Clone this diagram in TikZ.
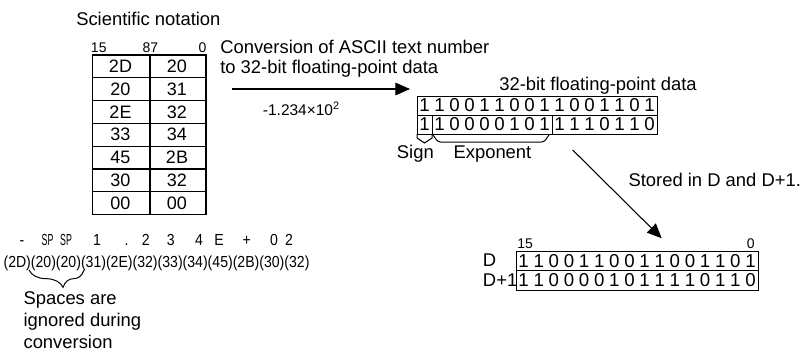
\documentclass[tikz,border=0pt]{standalone}
\usepackage{fontspec}
\setmainfont{Liberation Sans}
\usetikzlibrary{arrows.meta,decorations.pathreplacing}
\newcommand{\narrowtxt}[2]{\scalebox{#1}[1]{#2}}

\tikzset{
  txt/.style={inner sep=0pt, font=\fontsize{13.8}{16.3}\selectfont},
  tiny/.style={inner sep=0pt, font=\fontsize{10.5}{12}\selectfont},
  cellt/.style={inner sep=0pt, font=\fontsize{13.5}{16}\selectfont},
  bitt/.style={inner sep=0pt, font=\fontsize{14}{16}\selectfont},
  asc/.style={inner sep=0pt, font=\fontsize{12}{14}\selectfont},
  wire/.style={line width=0.75pt},
  grid/.style={line width=0.9pt},
  flow/.style={line width=0.8pt, -{Triangle[length=11pt,width=9.5pt]}},
}

\begin{document}
\begin{tikzpicture}[x=0.75pt,y=-0.75pt]
\useasboundingbox (0,0) rectangle (803,354);

% ASCII words
\node[txt, anchor=base west] (title) at (76,25) {Scientific notation};
\node[tiny, anchor=base west] (t15) at (90.7,52.5) {15};
\node[tiny, anchor=base] (t87) at (150.5,52.5) {87};
\node[tiny, anchor=base east] (t0) at (206.7,52.5) {0};
\draw[grid] (92.7,55) rectangle (206,214.5);
\draw[grid] (150,55) -- (150,214.5);
\foreach \i in {1,...,6}
    \draw[grid] (92.7,{55+22.78*\i}) -- (206,{55+22.78*\i});
\foreach \ha/\la [count=\i] in {2D/20,20/31,2E/32,33/34,45/2B,30/32,00/00}
{
    \node[cellt] (ha\i) at (120.5,{55+22.78*\i-11.4}) {\ha};
    \node[cellt] (la\i) at (177,{55+22.78*\i-11.4}) {\la};
}

% conversion
\node[txt, anchor=base west] (conv1) at (220,53) {Conversion of ASCII text number};
\node[txt, anchor=base west] (conv2) at (220,73) {to 32-bit floating-point data};
\coordinate (convfrom) at (232,89);
\coordinate (convto) at (410,89);
\draw[flow] (convfrom) -- (convto);
\node[inner sep=0pt, font=\fontsize{11.6}{13}\selectfont, anchor=base west] (value) at (262.7,115) {-1.234×10\textsuperscript{2}};

% 32-bit floating-point data
\node[txt, anchor=base east] (fptitle) at (697,90) {32-bit floating-point data};
\draw[wire] (417,96) rectangle (657,134);
\draw[wire] (417,115) -- (657,115);
\draw[wire] (432,115) -- (432,134);
\draw[wire] (552,115) -- (552,134);
\foreach \d [count=\i] in {1,1,0,0,1,1,0,0,1,1,0,0,1,1,0,1}
    \node[bitt] (fa\i) at ({417+15*\i-7.5},105.5) {\d};
\foreach \d [count=\i] in {1,1,0,0,0,0,1,0,1,1,1,1,0,1,1,0}
    \node[bitt] (fb\i) at ({417+15*\i-7.5},124.5) {\d};
\draw[wire] (417,134) -- (417,138) -- (424.5,143) -- (432,138) -- (432,134);
\draw[wire, rounded corners=2pt] (433,135) -- (438,142) -- (544,142) -- (549,135);
\node[txt, anchor=base west] (sign) at (396.7,158) {Sign};
\node[txt, anchor=base west] (expo) at (453.3,158) {Exponent};

% store
\node[txt, anchor=base west] (stored) at (628.3,186.7) {Stored in D and D+1.};
\coordinate (storefrom) at (572.7,150);
\coordinate (storeto) at (661.7,238.3);
\draw[flow] (storefrom) -- (storeto);

% D and D+1
\node[tiny, anchor=base west] (d15) at (517,248.3) {15};
\node[tiny, anchor=base east] (d0) at (755,248.3) {0};
\node[txt, anchor=base west] (dlo) at (482.7,266.7) {D};
\node[txt, anchor=base west] (dhi) at (482.7,286.7) {D+1};
\draw[wire] (516,251.7) rectangle (758,290);
\draw[wire] (516,270.7) -- (758,270.7);
\foreach \d [count=\i] in {1,1,0,0,1,1,0,0,1,1,0,0,1,1,0,1}
    \node[bitt] (da\i) at ({516+15.125*\i-7.56},261.2) {\d};
\foreach \d [count=\i] in {1,1,0,0,0,0,1,0,1,1,1,1,0,1,1,0}
    \node[bitt] (db\i) at ({516+15.125*\i-7.56},280.4) {\d};

% ASCII string
\foreach \c/\x/\s [count=\i] in {-/22/0.88,SP/47.5/0.55,SP/66/0.55,1/97/0.88,./126.7/0.88,2/145.8/0.88,3/170.8/0.88,4/199/0.88,E/219/0.88,+/246.7/0.88,0/274/0.88,2/289/0.88}
    \node[asc, anchor=base] (ch\i) at (\x,245) {\narrowtxt{\s}{\c}};
\node[asc, anchor=base west] (codes) at (3.3,267) {\scalebox{0.88}[1]{(2D)(20)(20)(31)(2E)(32)(33)(34)(45)(2B)(30)(32)}};
\draw[wire, decorate, decoration={brace, mirror, amplitude=13pt, aspect=0.62}] (29,270) -- (84,270);
\node[txt, anchor=base west, align=left] (spaces) at (23.3,348.3) {Spaces are\\ignored during\\conversion};
\end{tikzpicture}
\end{document}
